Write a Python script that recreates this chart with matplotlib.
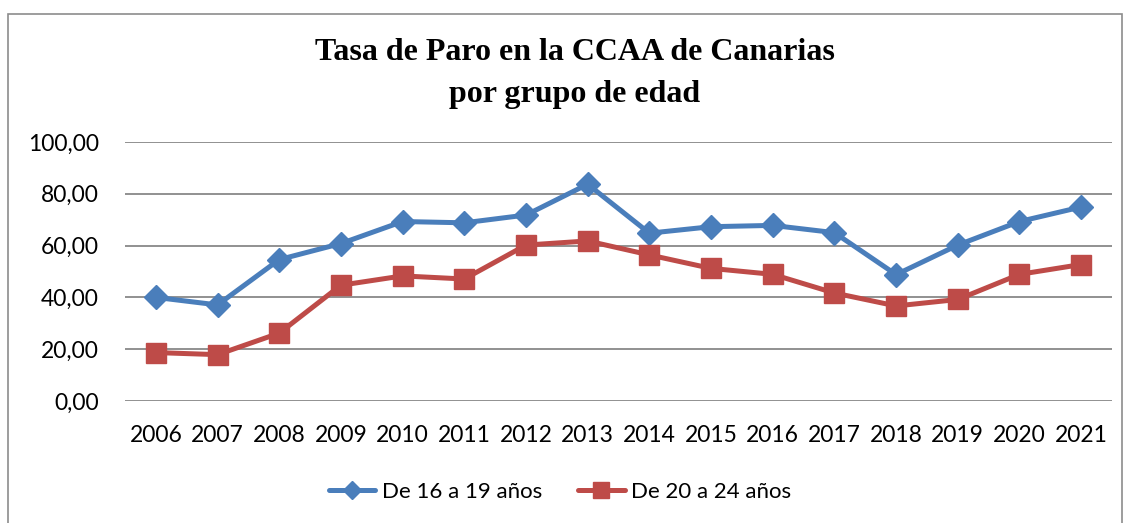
import matplotlib
matplotlib.use("Agg")
import matplotlib.pyplot as plt
from matplotlib.patches import Rectangle

years = ["2006", "2007", "2008", "2009", "2010", "2011", "2012", "2013",
         "2014", "2015", "2016", "2017", "2018", "2019", "2020", "2021"]
paro_16_19 = [40.0, 37.1, 54.6, 60.8, 69.3, 68.8, 71.8, 83.7,
              64.8, 67.3, 67.8, 65.0, 48.8, 60.2, 69.3, 74.9]
paro_20_24 = [18.7, 17.9, 26.2, 44.7, 48.3, 47.1, 60.2, 61.8,
              56.4, 51.2, 48.9, 41.7, 36.7, 39.2, 48.9, 52.7]
yticks = [0, 20, 40, 60, 80, 100]
ytick_labels = ["0,00", "20,00", "40,00", "60,00", "80,00", "100,00"]

plt.rcParams['font.family'] = ['Lato', 'DejaVu Sans']

fig = plt.figure(figsize=(11.29, 5.23), dpi=100)
ax = fig.add_axes([125/1129, 1-401/523, (1112-125)/1129, (401-142)/523])

x = list(range(len(years)))
ax.plot(x, paro_16_19, color='#4A7EBB', lw=3.6, marker='D', markersize=12,
        label='De 16 a 19 años', solid_capstyle='round')
ax.plot(x, paro_20_24, color='#BE4B48', lw=3.6, marker='s', markersize=14,
        label='De 20 a 24 años', solid_capstyle='round')

ax.set_xlim(-0.5, len(years) - 0.5)
ax.set_ylim(0, 100)
ax.set_yticks(yticks)
ax.set_yticklabels(ytick_labels)
ax.set_xticks(x)
ax.set_xticklabels(years)
ax.tick_params(axis='both', length=0, labelsize=16.5, colors='black')
ax.tick_params(axis='y', pad=19)
ax.tick_params(axis='x', pad=17)
ax.yaxis.grid(True, color='#888888', lw=1.3)
ax.set_axisbelow(True)
for s in ax.spines.values():
    s.set_visible(False)

fig.text(575/1129, 1-53/523, "Tasa de Paro en la CCAA de Canarias",
         ha='center', va='center', fontsize=23, fontweight='bold',
         family='Liberation Serif')
fig.text(575/1129, 1-95/523, "por grupo de edad",
         ha='center', va='center', fontsize=23, fontweight='bold',
         family='Liberation Serif')

fig.legend(loc='center', bbox_to_anchor=(560/1129, 1-492/523), ncol=2,
           frameon=False, fontsize=16, handlelength=2.1, handletextpad=0.3,
           columnspacing=1.6, markerscale=0.8)

border = Rectangle((7.5/1129, -0.1), (1122-7.5)/1129, 0.1 + 1-14.5/523,
                   transform=fig.transFigure, fill=False, edgecolor='#8c8c8c',
                   lw=1.2, clip_on=False)
fig.patches.append(border)

fig.savefig("out.png", dpi=100)
